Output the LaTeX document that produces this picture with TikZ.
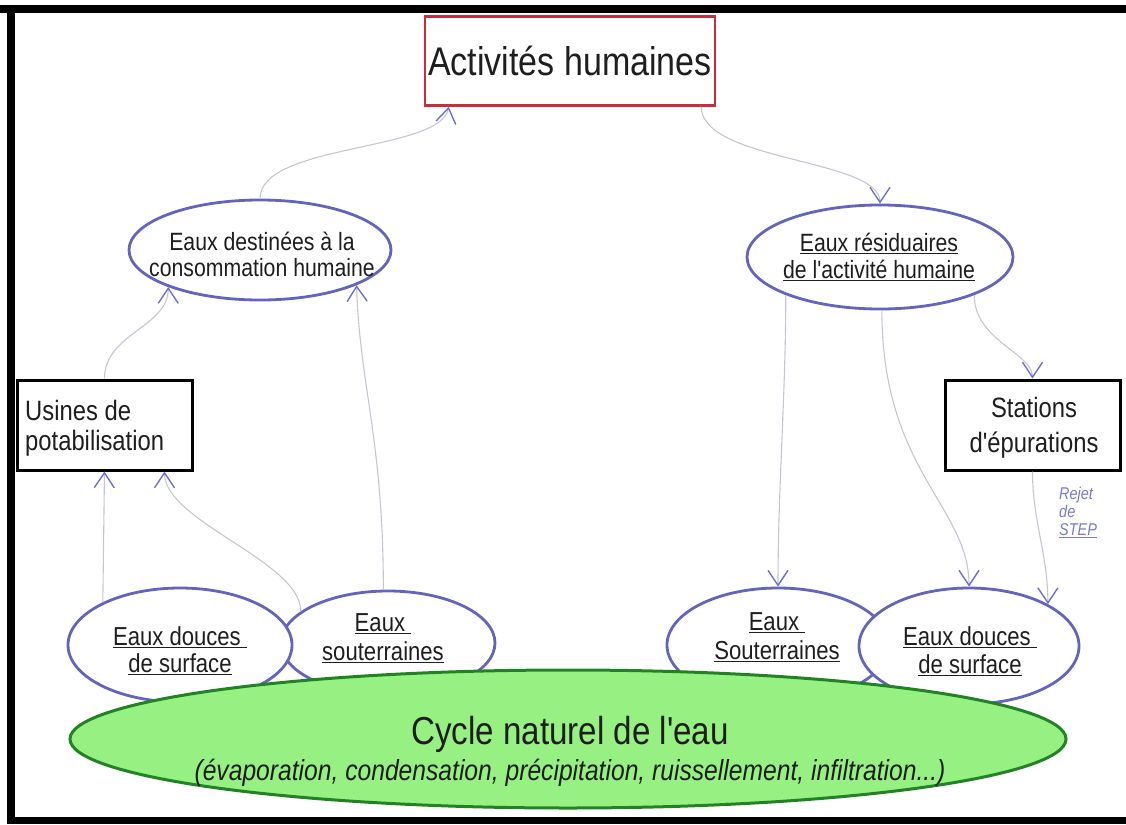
\documentclass[tikz,border=0pt]{standalone}
\usepackage{fontspec}
\setmainfont{Liberation Sans}[FakeStretch=0.85,Ligatures=TeXOff]
\usetikzlibrary{shapes.geometric,arrows.meta}

\definecolor{ink}{RGB}{30,30,30}
\definecolor{ovalblue}{RGB}{100,100,190}
\definecolor{linkgrey}{RGB}{198,198,210}
\definecolor{tipblue}{RGB}{110,110,205}
\definecolor{boxred}{RGB}{200,45,60}
\definecolor{cyclefill}{RGB}{150,240,130}
\definecolor{cycleedge}{RGB}{35,130,35}
\definecolor{stepblue}{RGB}{120,120,210}

\newcommand{\fs}[2]{\fontsize{#1}{#2}\selectfont}

\tikzset{
  oval/.style={ellipse, draw=ovalblue, line width=2.8pt, fill=white, inner sep=0pt},
  blackbox/.style={rectangle, draw=black, line width=3pt, fill=white, inner sep=0pt},
  redbox/.style={rectangle, draw=boxred, line width=2.5pt, fill=white, inner sep=0pt},
  label text/.style={text=ink, align=center, inner sep=0pt},
  link/.style={draw=linkgrey, line width=1.1pt,
    -{Straight Barb[length=15pt,width=20pt,color=tipblue,line width=1.4pt]}},
}

\begin{document}
\begin{tikzpicture}[x=1pt,y=-1pt]
\useasboundingbox (0,0) rectangle (1126,824);

% frame
\fill[black] (0,5) rectangle (1126,13);
\fill[black] (7,5) rectangle (15,824);
\fill[black] (7,817) rectangle (1126,824);

% top box
\node[redbox, minimum width=290pt, minimum height=89pt, text=ink, font=\fs{40}{46}]
  (act) at (570,61) {Activités humaines};

% upper ellipses
\node[oval, minimum width=262pt, minimum height=100pt] (conso) at (260,250) {};
\node[label text, font=\fs{25}{26}] (conso-t) at (262,254)
  {Eaux destinées à la\\consommation humaine};

\node[oval, minimum width=266pt, minimum height=104pt] (resid) at (880,257) {};
\node[label text, font=\fs{25}{27}] (resid-t) at (879,257)
  {\underline{Eaux résiduaires}\\\underline{de l'activité humaine}};

% treatment boxes
\node[blackbox, minimum width=175pt, minimum height=90pt] (usines) at (104.5,425) {};
\node[label text, align=left, anchor=west, font=\fs{28}{30}] (usines-t) at (25,428)
  {Usines de\\potabilisation};

\node[blackbox, minimum width=175pt, minimum height=90pt] (stations) at (1032.5,425) {};
\node[label text, font=\fs{28}{35}] (stations-t) at (1034,428)
  {Stations\\d'épurations};

% water bodies
\node[oval, minimum width=214pt, minimum height=104pt] (souL) at (388,643) {};
\node[oval, minimum width=224pt, minimum height=114pt] (douL) at (180,645) {};
\node[oval, minimum width=222pt, minimum height=114pt] (souR) at (778,645) {};
\node[oval, minimum width=220pt, minimum height=116pt] (douR) at (969,646) {};

\node[label text, font=\fs{26}{27}] (douL-t) at (180,651)
  {\underline{Eaux douces }\\\underline{de surface}};
\node[label text, font=\fs{26}{29}] (souL-t) at (383,638)
  {\underline{Eaux }\\\underline{souterraines}};
\node[label text, font=\fs{26}{29}] (souR-t) at (777,637)
  {\underline{Eaux }\\\underline{Souterraines}};
\node[label text, font=\fs{26}{28}] (douR-t) at (970,651)
  {\underline{Eaux douces }\\\underline{de surface}};

% natural cycle
\node[ellipse, draw=cycleedge, line width=3pt, fill=cyclefill, inner sep=0pt,
      minimum width=996pt, minimum height=138pt] (cycle) at (568,739) {};
\node[label text, font=\fs{39}{36}] (cycle-t) at (570,751)
  {Cycle naturel de l'eau\\
   {\fs{29}{36}\itshape(évaporation, condensation, précipitation, ruissellement, infiltration...)}};

% connectors
\draw[link] (conso.north) .. controls +(0,-55) and +(-8,45) .. ([xshift=25pt]act.south west);
\draw[link] ([xshift=-15pt]act.south east) .. controls +(0,55) and +(0,-45) .. (resid.north);
\draw[link] (usines.north) .. controls +(0,-45) and +(0,40) .. (conso.202);
\draw[link] (souL.95) .. controls +(0,-150) and +(3,100) .. (conso.340);
\draw[link] (douL.151) -- (usines.south);
\draw[link] (souL.160) .. controls +(0,-50) and +(0,50) .. ([xshift=60pt]usines.south);
\draw[link] (resid.202) .. controls +(0,100) and +(0,-100) .. (souR.north);
\draw[link] (resid.272) .. controls +(0,160) and +(0,-80) .. (douR.north);
\draw[link] (resid.338) .. controls +(0,45) and +(0,-25) .. (stations.north);
\draw[link] (stations.south) .. controls +(0,50) and +(0,-50) .. (douR.28);

\node[anchor=north west, align=left, inner sep=0pt, text=stepblue, font=\fs{17}{18}\itshape]
  (rejet) at (1059,487) {Rejet\\de\\\underline{STEP}};

\end{tikzpicture}
\end{document}
